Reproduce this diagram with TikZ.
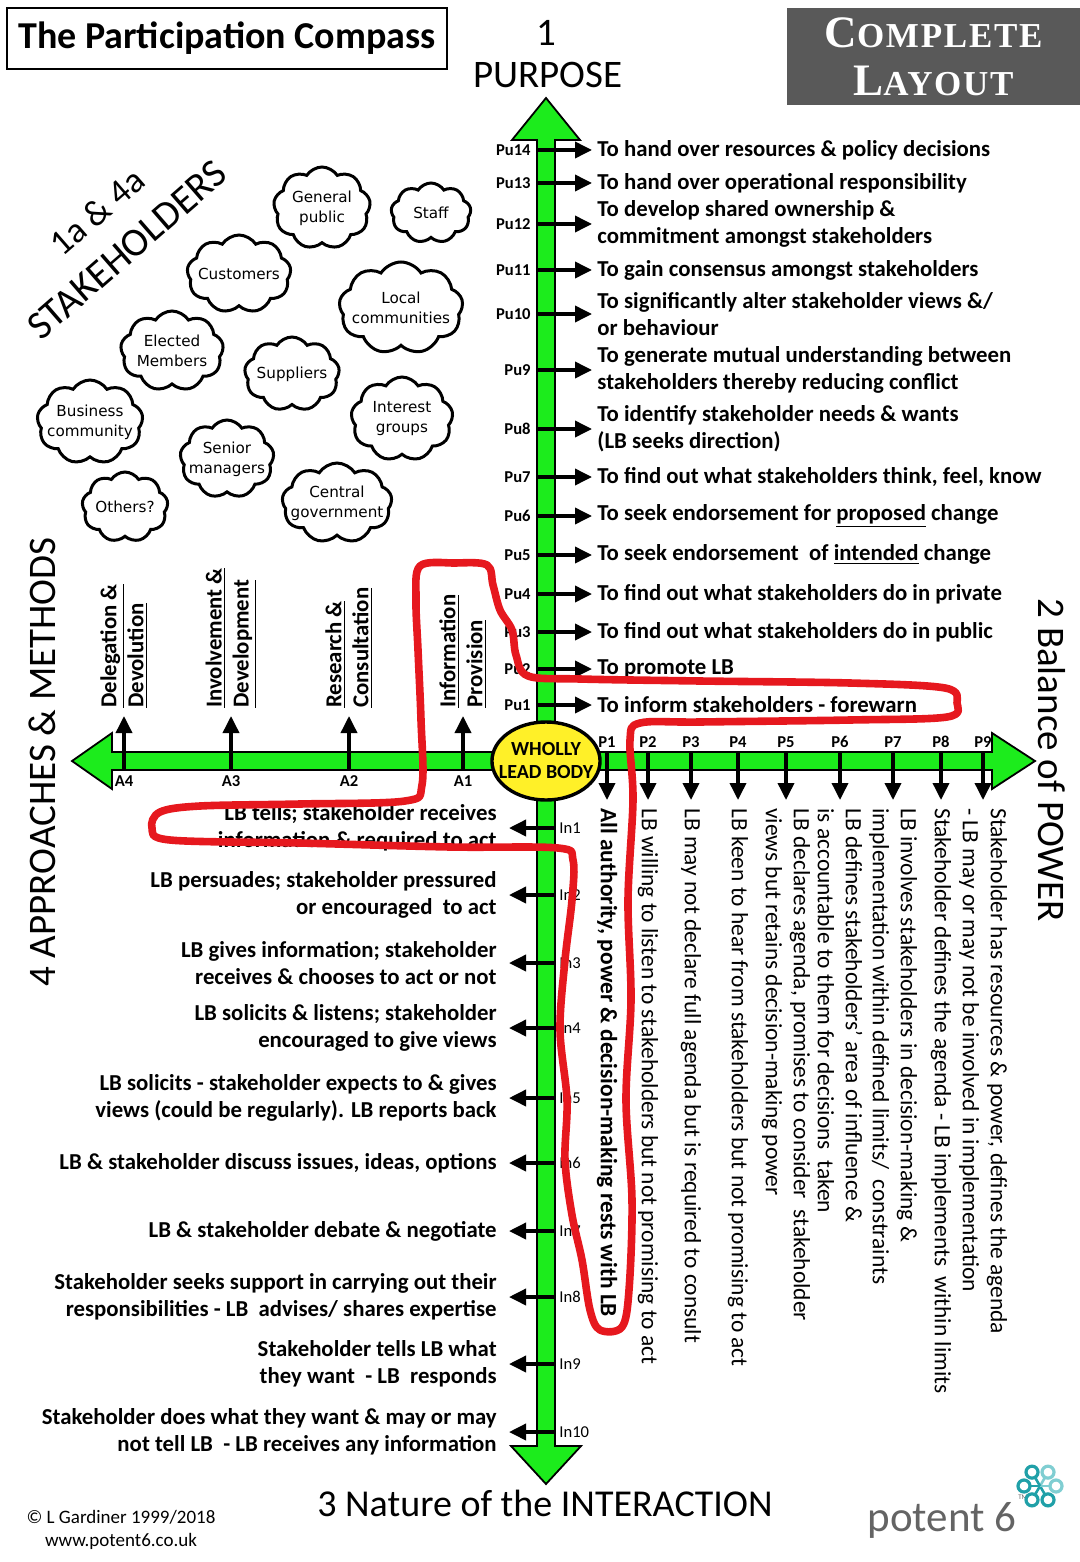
\documentclass[tikz,border=0pt]{standalone}
\usepackage{fontspec}
\setmainfont{Carlito}
\newfontfamily\cloudfont{DejaVu Sans}
\newfontfamily\platefont[LetterSpace=5]{Liberation Serif}
\usetikzlibrary{arrows.meta,shapes.symbols,shapes.geometric}

\definecolor{axisgreen}{RGB}{28,236,28}
\definecolor{penred}{RGB}{230,24,30}
\definecolor{plategrey}{RGB}{89,89,89}
\definecolor{logogrey}{RGB}{100,100,100}
\definecolor{tealdark}{RGB}{32,160,168}
\definecolor{teallight}{RGB}{128,206,210}

\begin{document}
\begin{tikzpicture}[x=0.5pt, y=-0.5pt,
	bodytext/.style={font=\fontsize{11.4}{13.5}\selectfont\bfseries, inner sep=1.5pt},
	ptext/.style={font=\fontsize{11.7}{14}\selectfont, align=left, rotate=-90, anchor=west, inner xsep=4pt},
	ticklbl/.style={font=\fontsize{8.3}{9}\selectfont\bfseries, inner sep=1pt},
	tick/.style={line width=1.8pt, -{Triangle[length=8.5pt,width=8pt]}},
	bar/.style={fill=axisgreen, draw=black, line width=0.9pt, line join=miter},
	stkcloud/.style={cloud, draw, line width=1.5pt, cloud puffs=9, cloud puff arc=115, cloud ignores aspect,
		inner xsep=-8pt, inner ysep=-4pt, align=center, font=\cloudfont\fontsize{7.6}{10}\selectfont},
	bigtitle/.style={font=\fontsize{19.5}{22}\selectfont}]
	\useasboundingbox (0,0) rectangle (1080,1562);
	
	% heading boxes
	\node[draw, line width=0.6pt, minimum width=220pt, minimum height=30.5pt,
		font=\fontsize{19}{19}\selectfont\bfseries] (title) at (227,38.5) {The Participation Compass};
	\node[fill=plategrey, text=white, minimum width=146.5pt, minimum height=48.5pt, align=center,
		font=\platefont\bfseries\fontsize{17.5}{24}\selectfont] (plate) at (933.5,56.5)
		{{\fontsize{22.5}{24}\selectfont C}OMPLETE\\{\fontsize{22.5}{24}\selectfont L}AYOUT};
	
	% stakeholders
	\node[font=\fontsize{18}{18}\selectfont, rotate=41] (stka) at (97,212) {1a \& 4a};
	\node[font=\fontsize{20}{20}\selectfont, rotate=41] (stkb) at (127,250) {STAKEHOLDERS};
	\foreach \nm/\cx/\cy/\w/\h/\txt in {genpub/322/208/97/82/{General\\public}, staff/431/213/80/60/{Staff},
		cust/239/274/104/78/{Customers}, local/401/308/124/92/{Local\\communities},
		elected/172/351/103/80/{Elected\\Members}, supp/292/374/95/74/{Suppliers},
		business/90/422/106/84/{Business\\community}, interest/402/419/102/84/{Interest\\groups},
		senior/227/459/94/78/{Senior\\managers}, others/125/507/86/70/{Others?},
		central/337/503/110/80/{Central\\government}}
		\node[stkcloud, minimum width=0.5pt*\w, minimum height=0.5pt*\h] (\nm) at (\cx,\cy) {\txt};
	
	% the two axes
	\draw[bar] (537,140) -- (512,140) -- (546,98) -- (580,140) -- (555,140) -- (555,1446) -- (581,1446)
		-- (546,1484) -- (511,1446) -- (537,1446) -- cycle;
	\draw[bar] (112,752) -- (112,733) -- (72,761) -- (112,789) -- (112,770) -- (992,770) -- (992,789)
		-- (1035,761) -- (992,733) -- (992,752) -- cycle;
	
	\node[bigtitle] (one) at (546,33) {1};
	\node[bigtitle] (purpose) at (548,75) {PURPOSE};
	\node[bigtitle, rotate=-90] (power) at (1052,760) {2 Balance of POWER};
	\node[bigtitle, font=\fontsize{19}{22}\selectfont] (interaction) at (545,1503) {3 Nature of the INTERACTION};
	\node[bigtitle, rotate=90] (approaches) at (42,762) {4 APPROACHES \& METHODS};
	
	% purpose
	\foreach \k/\yy/\txt in {14/150/{To hand over resources \& policy decisions},
		13/183/{To hand over operational responsibility},
		12/224/{To develop shared ownership \&\\commitment amongst stakeholders},
		11/270/{To gain consensus amongst stakeholders},
		10/314/{To significantly alter stakeholder views \&/\\or behaviour},
		9/370/{To generate mutual understanding between\\stakeholders thereby reducing conflict},
		8/429/{To identify stakeholder needs \& wants\\(LB seeks direction)},
		7/477/{To find out what stakeholders think, feel, know},
		6/516/{To seek endorsement for \underline{proposed} change},
		5/555/{To seek endorsement\ \ of \underline{intended} change},
		4/594/{To find out what stakeholders do in private},
		3/632/{To find out what stakeholders do in public},
		2/669/{To promote LB},
		1/705/{To inform stakeholders - forewarn}} {
		\coordinate (pua\k) at (537,\yy);
		\node[ticklbl, anchor=east] (pul\k) at (533,\yy) {Pu\k};
		\node[bodytext, align=left, anchor=west, inner xsep=2.5pt] (pu\k) at (592,\yy) {\txt};
		\draw[tick] (pua\k) -- (pu\k);
	}
	
	% interaction
	\foreach \k/\yy/\txt in {1/828/{LB tells; stakeholder receives\\information \& required to act},
		2/895/{LB persuades; stakeholder pressured\\or encouraged\ \ to act},
		3/963/{LB gives information; stakeholder\\receives \& chooses to act or not},
		4/1028/{LB solicits \& listens; stakeholder\\encouraged to give views},
		5/1098/{LB solicits - stakeholder expects to \& gives\\views (could be regularly). LB reports back},
		6/1163/{LB \& stakeholder discuss issues, ideas, options},
		7/1231/{LB \& stakeholder debate \& negotiate},
		8/1297/{Stakeholder seeks support in carrying out their\\responsibilities - LB\ \ advises/ shares expertise},
		9/1364/{Stakeholder tells LB what\\they want\ \ - LB\ \ responds},
		10/1432/{Stakeholder does what they want \& may or may\\not tell LB\ \ - LB receives any information}} {
		\coordinate (ina\k) at (555,\yy);
		\node[ticklbl, font=\fontsize{8.3}{9}\selectfont, anchor=west] (inl\k) at (557,\yy) {In\k};
		\node[bodytext, align=right, anchor=east, inner xsep=6pt] (in\k) at (509,\yy) {\txt};
		\draw[tick] (ina\k) -- (in\k);
	}
	
	% balance of power
	\foreach \k/\xx/\txt in {1/607/{\bfseries All authority, power \& decision-making rests with LB},
		2/648/{LB willing to listen to stakeholders but not promising to act},
		3/691/{LB may not declare full agenda but is required to consult},
		4/738/{LB keen to hear from stakeholders but not promising to act},
		5/786/{LB declares agenda, promises to consider\ \ stakeholder\\views but retains decision-making power},
		6/840/{LB defines stakeholders' area of influence \&\\is accountable to them for decisions\ \ taken},
		7/893/{LB involves stakeholders in decision-making \&\\implementation within defined limits/\ \ constraints},
		8/941/{Stakeholder defines the agenda - LB implements\ \ within limits},
		9/983/{Stakeholder has resources \& power, defines the agenda\\- LB may or may not be involved in implementation}} {
		\coordinate (pa\k) at (\xx,752);
		\node[ticklbl] (pl\k) at (\xx,742) {P\k};
		\node[ptext] (p\k) at (\xx,800) {\txt};
		\draw[tick] (pa\k) -- (p\k);
	}
	
	% approaches
	\foreach \k/\xx/\ta/\tb in {4/124/{Delegation \&}/{Devolution}, 3/231/{Involvement \&}/{Development},
		2/349/{Research \&}/{Consultation}, 1/463/{Information}/{Provision}} {
		\coordinate (aa\k) at (\xx,770);
		\node[ticklbl] (al\k) at (\xx,781) {A\k};
		\node[bodytext, align=left, rotate=90, anchor=west, inner xsep=4pt] (ap\k) at (\xx,716)
			{\underline{\ta}\\\underline{\tb}};
		\draw[tick] (aa\k) -- (ap\k);
	}
	
	\node[ellipse, draw, line width=1.7pt, fill={rgb,255:red,255;green,240;blue,40}, minimum width=54pt,
		minimum height=39pt, inner xsep=-4.5pt, inner ysep=0pt, align=center,
		font=\fontsize{10}{11.5}\selectfont\bfseries] (lb) at (546,761) {WHOLLY\\LEAD BODY};
	
	% pen loop
	\draw[penred, line width=3.8pt, line join=round] plot[smooth cycle, tension=0.55] coordinates {
		(420,566) (455,563) (487,565) (493,585) (500,610) (512,630) (516,655) (528,676) (580,679)
		(700,681) (850,683) (945,688) (957,703) (947,717) (850,720) (700,722) (640,723) (630,740)
		(633,800) (628,900) (631,1000) (626,1100) (632,1200) (629,1290) (622,1327) (600,1330)
		(590,1310) (582,1260) (572,1215) (565,1160) (567,1100) (560,1030) (565,960) (572,900)
		(573,860) (558,848) (450,847) (300,843) (170,840) (152,828) (160,812) (200,806) (300,804)
		(405,801) (422,785) (421,720) (418,650) (416,600)};
	
	% footer
	\node[font=\fontsize{9.5}{11.5}\selectfont, align=center] (credit) at (121,1530)
		{© L Gardiner 1999/2018\\www.potent6.co.uk};
	\node[text=logogrey, font=\fontsize{21.5}{22}\selectfont] (potent) at (942,1520) {potent 6};
	\node[text=logogrey, font=\fontsize{3.5}{4}\selectfont, inner sep=0pt] (tm) at (1023,1497) {TM};
	\coordinate (flower) at (1040,1486);
	\foreach \a/\c in {60/tealdark, 120/tealdark, 180/tealdark, 0/teallight, -60/teallight, -120/tealdark} {
		\draw[\c, line width=1.3pt] (flower) -- ([shift={(\a:10)}]flower);
		\draw[\c, line width=1.6pt] ([shift={(\a:16)}]flower) circle (6);
	}
\end{tikzpicture}
\end{document}
